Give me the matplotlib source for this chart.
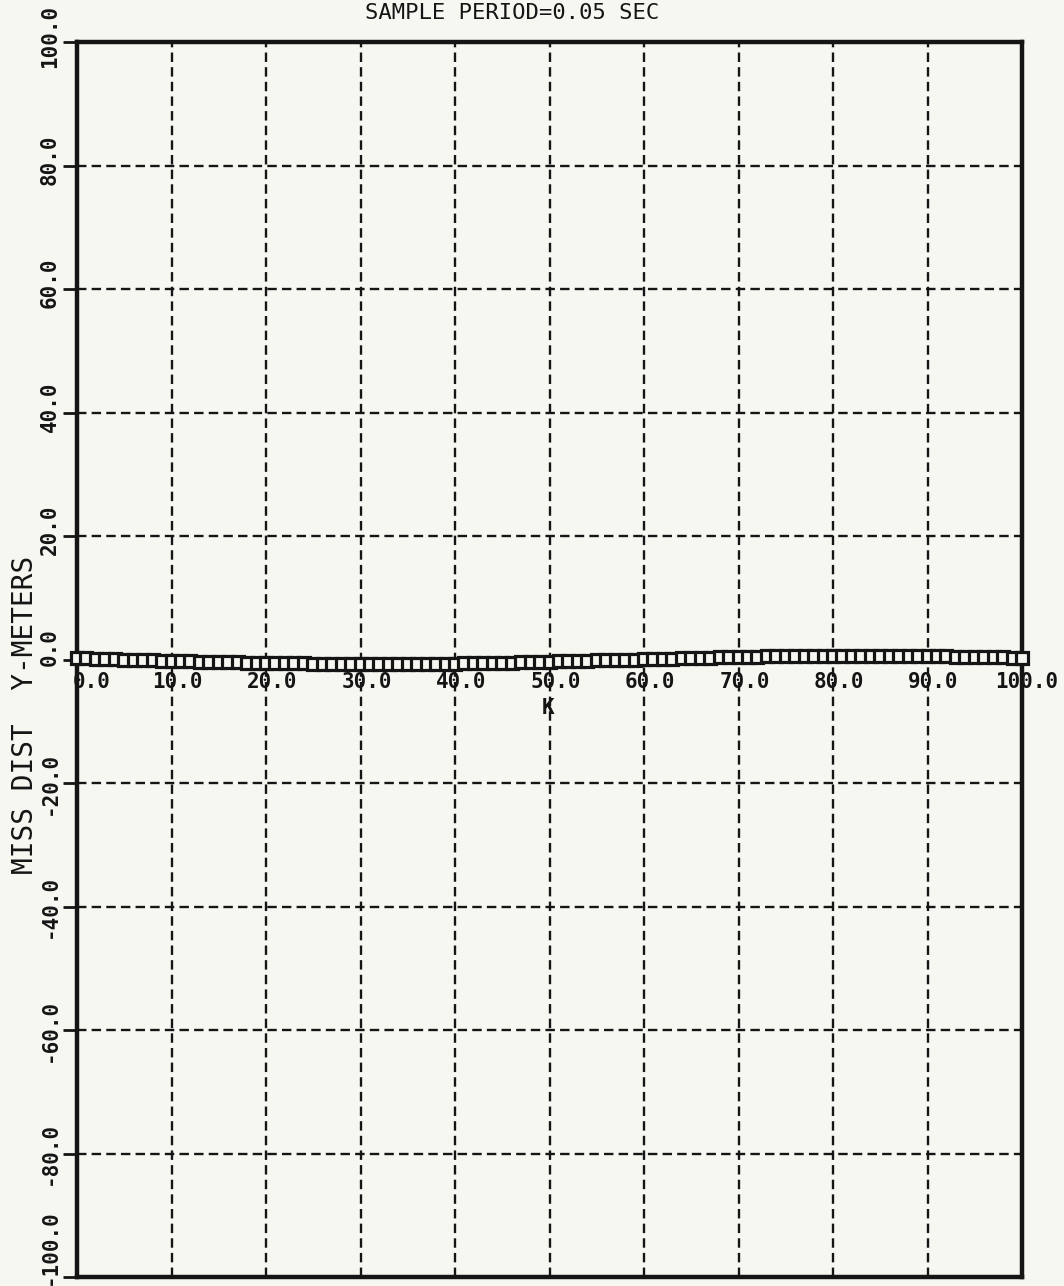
import numpy as np
import matplotlib
matplotlib.use('Agg')
import matplotlib.pyplot as plt
from matplotlib import transforms

# miss distance (m) for each step K
k = np.arange(0, 101)
miss = [0.2, 0.2, 0.15, 0.1, 0.05, 0.0, -0.05, -0.1, -0.15, -0.2, -0.25,
        -0.3, -0.3, -0.35, -0.4, -0.4, -0.45, -0.45, -0.5, -0.5, -0.55,
        -0.55, -0.6, -0.6, -0.6, -0.65, -0.65, -0.65, -0.7, -0.7, -0.7,
        -0.7, -0.7, -0.7, -0.7, -0.7, -0.7, -0.7, -0.65, -0.65, -0.65,
        -0.6, -0.6, -0.55, -0.55, -0.5, -0.5, -0.45, -0.4, -0.4, -0.35,
        -0.3, -0.3, -0.25, -0.2, -0.15, -0.1, -0.1, -0.05, 0.0, 0.05,
        0.1, 0.15, 0.15, 0.2, 0.25, 0.3, 0.3, 0.35, 0.4, 0.4,
        0.45, 0.45, 0.5, 0.5, 0.55, 0.55, 0.55, 0.6, 0.6, 0.6,
        0.6, 0.6, 0.6, 0.6, 0.6, 0.6, 0.55, 0.55, 0.55, 0.5,
        0.5, 0.5, 0.45, 0.45, 0.4, 0.4, 0.35, 0.35, 0.3, 0.3]

xticks = [0, 10, 20, 30, 40, 50, 60, 70, 80, 90, 100]
yticks = [100, 80, 60, 40, 20, 0, -20, -40, -60, -80, -100]

paper = '#f7f7f2'
ink = '#151515'
font = 'DejaVu Sans Mono'

W, H = 1064, 1286
fig = plt.figure(figsize=(W / 100, H / 100), dpi=100, facecolor=paper)
ax = fig.add_axes([77 / W, (H - 1277) / H, (1022 - 77) / W, (1277 - 42) / H])
ax.set_facecolor(paper)

ax.set_xlim(0, 100)
ax.set_ylim(-100, 100)
ax.set_xticks(xticks)
ax.set_yticks(yticks)
ax.grid(True, color=ink, lw=1.7, ls=(0, (4, 2.2)))
ax.tick_params(axis='x', length=0, labelbottom=False)
ax.tick_params(axis='y', length=10, width=2, direction='out', color=ink, labelleft=False)
for s in ax.spines.values():
    s.set_linewidth(3.2)
    s.set_color(ink)

ax.plot(k, miss, color=ink, lw=3, marker='s', ms=8.5, mfc=paper, mec=ink,
        mew=2.3, clip_on=False, zorder=5)

# plotter-style tick labels sitting on the zero line
xoff = {1: 15, 2: 6, 3: 5}
for v in xticks:
    n = len(str(v))
    tr = transforms.offset_copy(ax.transData, fig, x=xoff[n], y=-22, units='dots')
    ax.text(v, 0, f'{v:.1f}', transform=tr, ha='center', va='center',
            fontsize=15, family=font, weight='bold', color=ink, zorder=6)

ybase = transforms.blended_transform_factory(ax.transAxes, ax.transData)
for v in yticks:
    if v == 0:
        dy = 12
    elif v == -100:
        dy = 30
    elif v > 0:
        dy = 6
    else:
        dy = 0
    tr = transforms.offset_copy(ybase, fig, x=-27, y=dy, units='dots')
    ax.text(0, v, f'{v:.1f}', transform=tr, ha='center', va='center', rotation=90,
            fontsize=15, family=font, weight='bold', color=ink, clip_on=False)

fig.text(548 / W, 1 - 708 / H, 'K', ha='center', va='center', fontsize=15,
         family=font, weight='bold', color=ink)
fig.text(25 / W, 1 - 715 / H, 'MISS DIST  Y-METERS', ha='center', va='center',
         rotation=90, fontsize=20, family=font, color=ink)
fig.text(512 / W, 1 - 13 / H, 'SAMPLE PERIOD=0.05 SEC', ha='center', va='center',
         fontsize=16, family=font, color=ink)

fig.savefig('out.png', dpi=100, facecolor=paper)
